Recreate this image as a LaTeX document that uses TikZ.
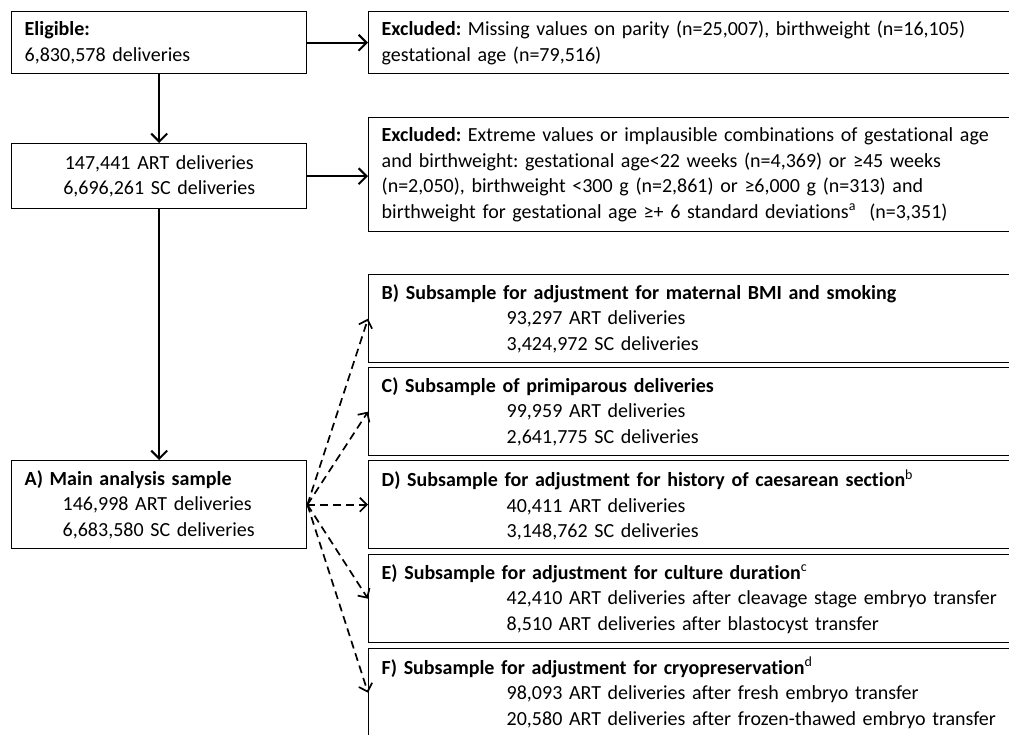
\documentclass[tikz,border=0pt]{standalone}
\usepackage{fontspec}
\setmainfont{Carlito}[Ligatures=NoCommon]
\usetikzlibrary{arrows.meta}

\tikzset{
  box/.style={draw, line width=1.4pt, rectangle, anchor=north west, inner xsep=13pt, inner ysep=0pt, align=left},
  flow/.style={-{Straight Barb[length=8pt,width=16pt]}, line width=2pt},
  subflow/.style={-{Straight Barb[length=7pt,width=14pt]}, line width=1.7pt, dash pattern=on 8pt off 5pt}
}
\newcommand{\indA}{\hspace*{38pt}}
\newcommand{\indB}{\hspace*{125pt}}

\begin{document}
\begin{tikzpicture}[x=1pt,y=1pt]
\fontsize{20}{25.5}\selectfont\frenchspacing
\useasboundingbox (0,0) rectangle (1009,-734);

\node[box, text width=269pt, minimum height=62pt] (Eligible) at (11,-11) {\textbf{Eligible:}\\6,830,578 deliveries};
\node[box, text width=640pt, minimum height=62pt] (Excl1) at (368,-11) {\textbf{Excluded:} Missing values on parity (n=25,007), birthweight (n=16,105)\\gestational age (n=79,516)};

\node[box, text width=269pt, minimum height=65pt, align=center] (Total) at (11,-143) {147,441 ART deliveries\\6,696,261 SC deliveries};
\node[box, text width=640pt, minimum height=114pt] (Excl2) at (368,-117) {\textbf{Excluded:} Extreme values or implausible combinations of gestational age\\and birthweight: gestational age<22 weeks (n=4,369) or ≥45 weeks\\(n=2,050), birthweight <300 g (n=2,861) or ≥6,000 g (n=313) and\\birthweight for gestational age ≥+ 6 standard deviations\textsuperscript{a}\ \ (n=3,351)};

\node[box, text width=269pt, minimum height=88pt] (Main) at (11,-460) {\textbf{A) Main analysis sample}\\\indA 146,998 ART deliveries\\\indA 6,683,580 SC deliveries};

\node[box, text width=640pt, minimum height=88pt] (SubB) at (368,-274) {\textbf{B) Subsample for adjustment for maternal BMI and smoking}\\\indB 93,297 ART deliveries\\\indB 3,424,972 SC deliveries};
\node[box, text width=640pt, minimum height=88pt] (SubC) at (368,-367) {\textbf{C) Subsample of primiparous deliveries}\\\indB 99,959 ART deliveries\\\indB 2,641,775 SC deliveries};
\node[box, text width=640pt, minimum height=88pt] (SubD) at (368,-460) {\textbf{D) Subsample for adjustment for history of caesarean section}\textsuperscript{b}\\\indB 40,411 ART deliveries\\\indB 3,148,762 SC deliveries};
\node[box, text width=640pt, minimum height=88pt] (SubE) at (368,-554) {\textbf{E) Subsample for adjustment for culture duration}\textsuperscript{c}\\\indB 42,410 ART deliveries after cleavage stage embryo transfer\\\indB 8,510 ART deliveries after blastocyst transfer};
\node[box, text width=640pt, minimum height=88pt] (SubF) at (368,-648) {\textbf{F) Subsample for adjustment for cryopreservation}\textsuperscript{d}\\\indB 98,093 ART deliveries after fresh embryo transfer\\\indB 20,580 ART deliveries after frozen-thawed embryo transfer};

\draw[flow] (Eligible.east) -- (Excl1.west);
\draw[flow] (Eligible) -- (Total);
\draw[flow] (Total.east) -- (Total.east -| Excl2.west);
\draw[flow] (Total) -- (Main);

\draw[subflow] (Main.east) -- (SubB.west);
\draw[subflow] (Main.east) -- (SubC.west);
\draw[subflow] (Main.east) -- (SubD.west);
\draw[subflow] (Main.east) -- (SubE.west);
\draw[subflow] (Main.east) -- (SubF.west);

\end{tikzpicture}
\end{document}
